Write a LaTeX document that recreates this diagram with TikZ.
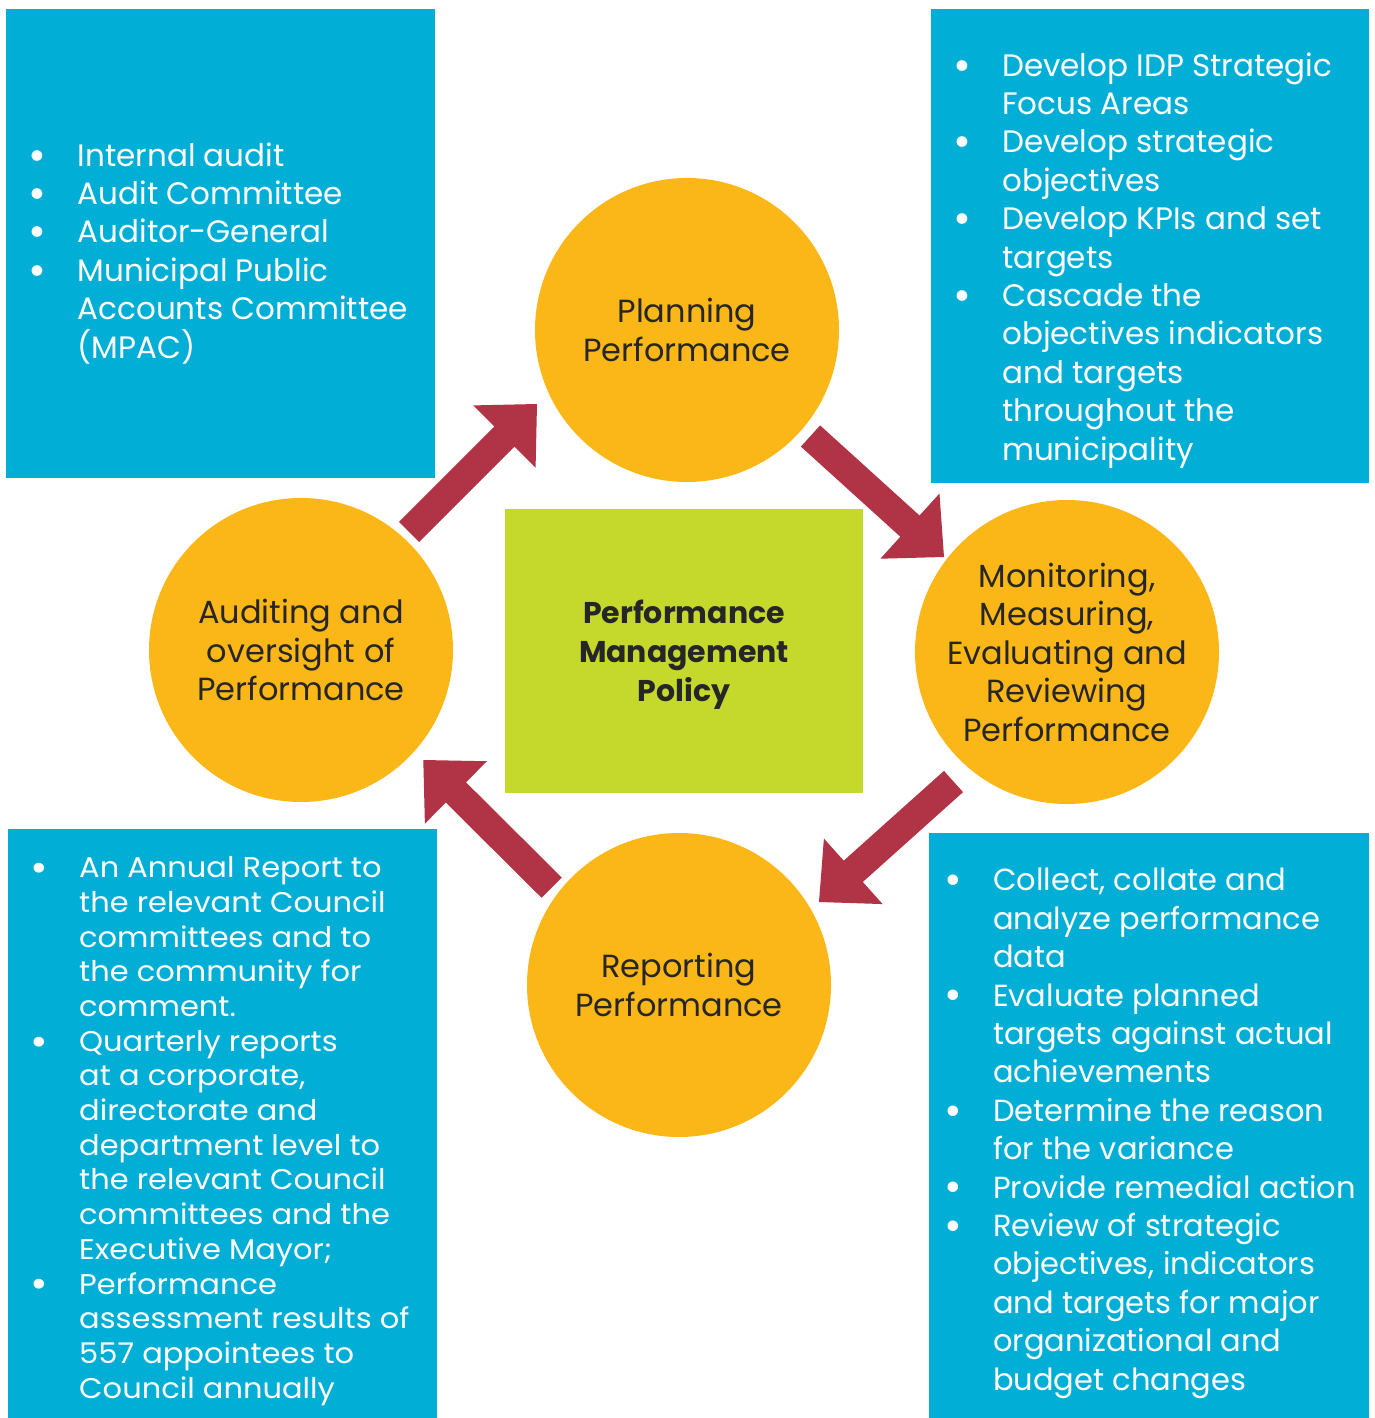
\documentclass[tikz,border=0pt]{standalone}
\usepackage{fontspec}
\setmainfont{Poppins}
\newfontfamily\widefont[FakeStretch=1.07]{Poppins}
\usetikzlibrary{calc}
\definecolor{boxblue}{HTML}{00AED6}
\definecolor{circorange}{HTML}{FBB718}
\definecolor{policygreen}{HTML}{C5D92D}
\definecolor{arrowred}{HTML}{B13346}
\definecolor{darktext}{HTML}{262626}
\newcommand\bul{\llap{\smash{\raisebox{-0.13em}{\scalebox{1.4}{\textbullet}}}\hspace{31pt}}}
% block arrow from tail centre #1 to tip #2
\newcommand\blkarrow[2]{%
  \coordinate (#1b) at ($(#2)!46pt!(#1)$);
  \fill[arrowred] ($(#1)!14.3pt!90:(#2)$) -- ($(#1b)!14.3pt!90:(#2)$) --
    ($(#1b)!44pt!90:(#2)$) -- (#2) -- ($(#1b)!44pt!-90:(#2)$) --
    ($(#1b)!14.3pt!-90:(#2)$) -- ($(#1)!14.3pt!-90:(#2)$) -- cycle;}
\tikzset{
  bluebox/.style={fill=boxblue, draw=none, inner sep=0, anchor=north west},
  stage/.style={circle, fill=circorange, draw=none, minimum size=304, inner sep=0,
    align=center, text=darktext, font=\fontsize{32}{38.5}\selectfont},
  listtext/.style={anchor=base west, align=left, inner sep=0, text=white,
    font=\fontsize{31}{38.4}\selectfont},
}
\begin{document}
\begin{tikzpicture}[x=1pt, y=-1pt]
\useasboundingbox[fill=white] (0,0) rectangle (1375,1418);

% blue boxes
\node (tlbox) [bluebox, minimum width=429, minimum height=469] at (6,9) {};
\node (trbox) [bluebox, minimum width=438, minimum height=474] at (931,9) {};
\node (blbox) [bluebox, minimum width=429, minimum height=589] at (8,829) {};
\node (brbox) [bluebox, minimum width=440, minimum height=585] at (929,833) {};

% centre policy box
\node (policy) [fill=policygreen, minimum width=358, minimum height=284, inner sep=0]
  at (684,651) {};
\node (policytext) [align=center, inner sep=0, text=darktext,
  font=\fontsize{30}{39}\selectfont\bfseries]
  at (684,655) {Performance\\Management\\Policy};

% stages
\node (plan) [stage] at (687,330) {Planning\\Performance};
\node (mon) [stage] at (1067,652) {Monitoring,\\Measuring,\\Evaluating and\\Reviewing\\Performance};
\node (rep) [stage] at (679,985) {Reporting\\Performance};
\node (aud) [stage] at (301,650) {Auditing and\\oversight of\\Performance};

% arrows
\coordinate (a1) at (409,532);   \coordinate (a1t) at (537,404);
\coordinate (a2) at (810.5,436); \coordinate (a2t) at (944,557);
\coordinate (a3) at (953.5,781.5); \coordinate (a3t) at (819,902);
\coordinate (a4) at (551.7,887.7); \coordinate (a4t) at (423.3,760);
\blkarrow{a1}{a1t}
\blkarrow{a2}{a2t}
\blkarrow{a3}{a3t}
\blkarrow{a4}{a4t}

% list texts (anchored at the baseline of their last line)
\node (tltext) [listtext] at (77.5,358) {\bul Internal audit\\
\bul Audit Committee\\
\bul Auditor-General\\
\bul Municipal Public\\
Accounts Committee\\
(MPAC)};

\node (trtext) [listtext] at (1002,460) {\bul Develop IDP Strategic\\
Focus Areas\\
\bul Develop strategic\\
objectives\\
\bul Develop KPIs and set\\
targets\\
\bul Cascade the\\
objectives indicators\\
and targets\\
throughout the\\
municipality};

\node (bltext) [listtext, font=\widefont\fontsize{28.5}{34.67}\selectfont] at (79,1398) {\bul An Annual Report to\\
the relevant Council\\
committees and to\\
the community for\\
comment.\\
\bul Quarterly reports\\
at a corporate,\\
directorate and\\
department level to\\
the relevant Council\\
committees and the\\
Executive Mayor;\\
\bul Performance\\
assessment results of\\
557 appointees to\\
Council annually};

\node (brtext) [listtext, font=\fontsize{30.5}{38.4}\selectfont] at (993,1390) {\bul Collect, collate and\\
analyze performance\\
data\\
\bul Evaluate planned\\
targets against actual\\
achievements\\
\bul Determine the reason\\
for the variance\\
\bul Provide remedial action\\
\bul Review of strategic\\
objectives, indicators\\
and targets for major\\
organizational and\\
budget changes};
\end{tikzpicture}
\end{document}
